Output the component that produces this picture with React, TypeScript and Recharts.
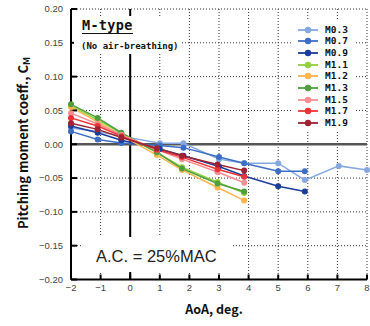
import React from 'react';
import { LineChart, Line, XAxis, YAxis, CartesianGrid, ReferenceLine, Label } from 'recharts';

// Mach numbers and colours (legend order)
const machNames = ['M0.3', 'M0.7', 'M0.9', 'M1.1', 'M1.2', 'M1.3', 'M1.5', 'M1.7', 'M1.9'];
const machColors = ['#86a8e0', '#3d6ec6', '#1d3d9c', '#92d13f', '#ffb54c', '#4e9e3e', '#f78f92', '#ec3336', '#9e2232'];

// angle of attack (deg.) per test group
const aoaM03 = [-2, -1.1, -0.3, 1.0, 1.8, 3.0, 3.85, 5.0, 5.9, 7.05, 8.0];
const aoaSubsonic = [-2, -1.1, -0.3, 1.0, 1.8, 3.0, 3.85, 5.0, 5.9];
const aoaSupersonic = [-2, -1.1, -0.3, 0.9, 1.75, 2.95, 3.85];

// pitching moment coefficient Cm
const cmM03 = [0.024, 0.019, 0.012, 0.0015, 0.0015, -0.022, -0.028, -0.028, -0.053, -0.032, -0.038];
const cmM07 = [0.019, 0.007, 0.002, -0.002, -0.005, -0.019, -0.028, -0.04, -0.04];
const cmM09 = [0.027, 0.017, 0.006, -0.007, -0.017, -0.033, -0.047, -0.062, -0.07];
const cmM11 = [0.057, 0.036, 0.016, -0.012, -0.034, -0.056, -0.072];
const cmM12 = [0.055, 0.033, 0.013, -0.016, -0.038, -0.064, -0.083];
const cmM13 = [0.059, 0.039, 0.017, -0.012, -0.036, -0.058, -0.07];
const cmM15 = [0.046, 0.03, 0.014, -0.008, -0.022, -0.041, -0.057];
const cmM17 = [0.039, 0.027, 0.012, -0.008, -0.019, -0.037, -0.048];
const cmM19 = [0.031, 0.022, 0.01, -0.006, -0.017, -0.03, -0.039];

const xTicks = [-2, -1, 0, 1, 2, 3, 4, 5, 6, 7, 8];
const yTicks = [-0.2, -0.15, -0.1, -0.05, 0, 0.05, 0.1, 0.15, 0.2];

const toRows = (aoa: number[], cm: number[]) => aoa.map((a, i) => ({ aoa: a, cm: cm[i] }));

const series = [
  toRows(aoaM03, cmM03),
  toRows(aoaSubsonic, cmM07),
  toRows(aoaSubsonic, cmM09),
  toRows(aoaSupersonic, cmM11),
  toRows(aoaSupersonic, cmM12),
  toRows(aoaSupersonic, cmM13),
  toRows(aoaSupersonic, cmM15),
  toRows(aoaSupersonic, cmM17),
  toRows(aoaSupersonic, cmM19),
].map((rows, i) => ({ name: machNames[i], color: machColors[i], rows }));

const minus = (s: string) => s.replace('-', '\u2212');
const tickFont = { fontFamily: 'Liberation Sans, Arial, sans-serif', fontSize: 9.5, fill: '#444' };
const boldFont = '"Noto Sans CJK JP", "DejaVu Sans", sans-serif';
const monoFont = '"DejaVu Sans Mono", "Liberation Mono", monospace';
const frame = { stroke: '#000', strokeWidth: 2 };

export default function App() {
  return (
    <div style={{ position: 'absolute', left: 0, top: 0, width: 370, height: 326, background: '#fff' }}>
      <LineChart width={370} height={326} margin={{ top: 9, right: 3, bottom: 0, left: 0 }}>
        <CartesianGrid stroke="#333" strokeDasharray="1 2" />
        <XAxis
          xAxisId={0}
          dataKey="aoa"
          type="number"
          domain={[-2, 8]}
          ticks={xTicks}
          height={46.5}
          axisLine={frame}
          tickLine={frame}
          tickSize={-5}
          tickMargin={10}
          tick={tickFont}
          tickFormatter={(v: number) => minus(String(v))}
        >
          <Label
            content={() => (
              <text x={214} y={314} textAnchor="middle" fontFamily={boldFont} fontWeight={700} fontSize={12.5} fill="#111">
                AoA, deg.
              </text>
            )}
          />
        </XAxis>
        <XAxis xAxisId="top" orientation="top" type="number" domain={[-2, 8]} ticks={xTicks} height={0}
          axisLine={frame} tickLine={frame} tickSize={-5} tick={false} />
        <YAxis
          yAxisId={0}
          type="number"
          domain={[-0.2, 0.2]}
          ticks={yTicks}
          width={71}
          axisLine={frame}
          tickLine={frame}
          tickSize={-6}
          tickMargin={14}
          tick={tickFont}
          tickFormatter={(v: number) => minus(v.toFixed(2))}
        >
          <Label
            content={() => (
              <text transform="translate(28,143) rotate(-90)" textAnchor="middle" fontFamily={boldFont} fontWeight={700} fontSize={13} fill="#111">
                Pitching moment coeff., C<tspan fontSize={9.5} dy={2}>M</tspan>
              </text>
            )}
          />
        </YAxis>
        <YAxis yAxisId="right" orientation="right" type="number" domain={[-0.2, 0.2]} ticks={yTicks} width={0}
          axisLine={frame} tickLine={frame} tickSize={-6} tick={false} />
        <ReferenceLine x={0} stroke="#000" strokeWidth={2} />
        <ReferenceLine y={0} stroke="#555" strokeWidth={2.5} />
        {series.map((s) => (
          <Line
            key={s.name}
            data={s.rows}
            dataKey="cm"
            name={s.name}
            type="linear"
            stroke={s.color}
            strokeWidth={1.5}
            dot={{ r: 3, fill: s.color, stroke: s.color, strokeWidth: 0 }}
            activeDot={false}
            isAnimationActive={false}
          />
        ))}
      </LineChart>

      {/* M-type caption */}
      <div style={{ position: 'absolute', left: 74, top: 16, width: 107, height: 38, background: '#fff', fontFamily: monoFont, fontWeight: 700, color: '#111' }}>
        <div style={{ position: 'absolute', left: 8, top: 2, fontSize: 13.5, lineHeight: '15px', borderBottom: '1.5px solid #111', letterSpacing: 0.3, whiteSpace: 'nowrap' }}>M-type</div>
        <div style={{ position: 'absolute', left: 7, top: 25, fontSize: 9, lineHeight: '11px', whiteSpace: 'nowrap' }}>(No air-breathing)</div>
      </div>

      {/* legend */}
      <div style={{ position: 'absolute', left: 292, top: 20, width: 62, height: 110, background: '#fff', paddingTop: 4, boxSizing: 'border-box' }}>
        {series.map((s) => (
          <div key={s.name} style={{ display: 'flex', alignItems: 'center', height: 11.66 }}>
            <svg width={33} height={10} style={{ flex: 'none' }}>
              <line x1={6} y1={5} x2={26} y2={5} stroke={s.color} strokeWidth={1.8} />
              <circle cx={16} cy={5} r={3.2} fill={s.color} />
            </svg>
            <span style={{ fontFamily: monoFont, fontWeight: 700, fontSize: 9.5, lineHeight: '10px', color: '#111' }}>{s.name}</span>
          </div>
        ))}
      </div>

      {/* aerodynamic centre note */}
      <div style={{ position: 'absolute', left: 81, top: 237, width: 152, height: 35, background: '#fff' }}>
        <div style={{ position: 'absolute', left: 15, top: 9, fontFamily: 'Liberation Sans, Arial, sans-serif', fontSize: 16.5, lineHeight: '20px', color: '#222', whiteSpace: 'nowrap' }}>
          A.C. = 25%MAC
        </div>
      </div>
    </div>
  );
}
